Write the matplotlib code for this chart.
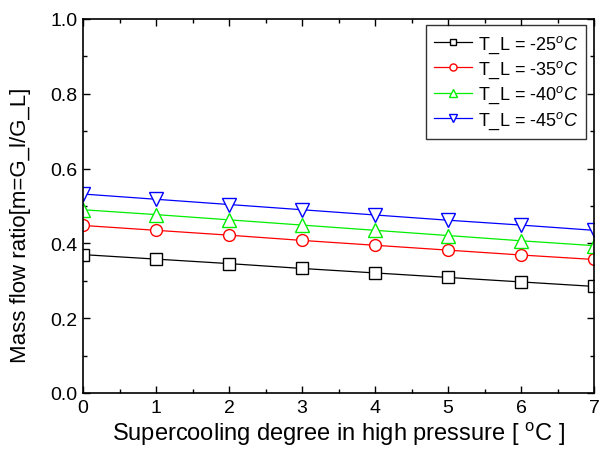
import matplotlib
matplotlib.use("Agg")
import matplotlib.pyplot as plt
from matplotlib.ticker import MultipleLocator

plt.rcParams['font.family'] = ['Liberation Sans', 'DejaVu Sans']
plt.rcParams['mathtext.fontset'] = 'custom'
plt.rcParams['mathtext.rm'] = 'Liberation Sans'
plt.rcParams['mathtext.it'] = 'Liberation Sans:italic'

x = [0, 1, 2, 3, 4, 5, 6, 7]
m_25 = [0.370, 0.358, 0.346, 0.333, 0.321, 0.309, 0.297, 0.285]
m_35 = [0.448, 0.435, 0.422, 0.408, 0.395, 0.382, 0.369, 0.357]
m_40 = [0.490, 0.477, 0.463, 0.449, 0.435, 0.421, 0.407, 0.394]
m_45 = [0.532, 0.518, 0.504, 0.490, 0.476, 0.462, 0.449, 0.435]
labels = ['T_L = -25$^{o}C$', 'T_L = -35$^{o}C$', 'T_L = -40$^{o}C$', 'T_L = -45$^{o}C$']

fig = plt.figure(figsize=(6.03, 4.56), dpi=100)
ax = fig.add_axes([83/603, 1-394/456, 511/603, 374/456])

styles = [('black', 's', 8), ('red', 'o', 8.5), ('#00ee00', '^', 10.5), ('blue', 'v', 10.5)]
for ys, lab, (c, mk, ms) in zip([m_25, m_35, m_40, m_45], labels, styles):
    ax.plot(x, ys, color=c, lw=0.9, marker=mk, ms=ms,
            mfc='white', mec=c, mew=1.0, label=lab)

ax.set_xlim(0, 7)
ax.set_ylim(0.0, 1.0)
ax.xaxis.set_major_locator(MultipleLocator(1))
ax.xaxis.set_minor_locator(MultipleLocator(0.5))
ax.yaxis.set_minor_locator(MultipleLocator(0.1))
ax.set_yticks([0.0, 0.2, 0.4, 0.6, 0.8, 1.0])
ax.set_yticklabels(['0.0', '0.2', '0.4', '0.6', '0.8', '1.0'])
ax.tick_params(which='both', direction='in', top=True, right=True, labelsize=14)
ax.tick_params(which='major', length=5, width=1, pad=4)
ax.tick_params(which='minor', length=3, width=1)
for s in ax.spines.values():
    s.set_linewidth(1.2)

ax.set_xlabel('Supercooling degree in high pressure [ $^{\\rm o}$C ]', fontsize=17, labelpad=3)
ax.set_ylabel('Mass flow ratio[m=G_l/G_L]', fontsize=16)
ax.yaxis.set_label_coords(-0.102, 0.452)

leg = ax.legend(loc='upper right', fontsize=13, frameon=True, fancybox=False,
                edgecolor='black', handlelength=2.15, borderpad=0.45, markerscale=0.6,
                labelspacing=0.22, handletextpad=0.28, borderaxespad=0,
                bbox_to_anchor=(1 - 8/511, 1 - 6/374))
leg.get_frame().set_linewidth(1.0)

fig.savefig('out.png', dpi=100)
